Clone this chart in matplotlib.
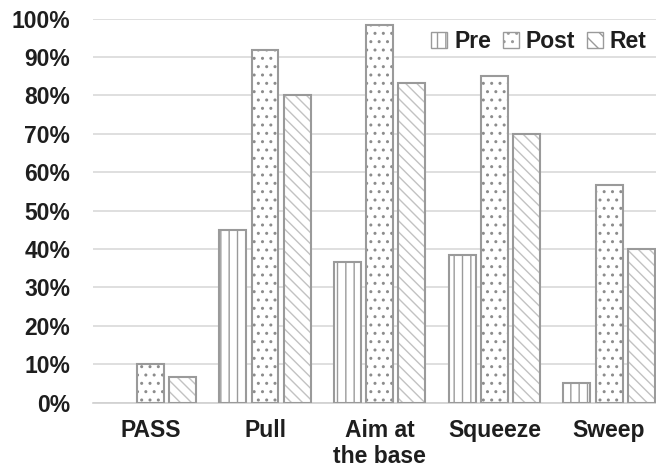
import matplotlib.pyplot as plt
import numpy as np
from matplotlib.patches import Patch

categories = ["PASS", "Pull", "Aim at\nthe base", "Squeeze", "Sweep"]
pre = [0, 45.0, 36.7, 38.3, 5.0]
post = [10.0, 91.7, 98.3, 85.0, 56.7]
ret = [6.7, 80.0, 83.3, 70.0, 40.0]
series = ["Pre", "Post", "Ret"]

plt.rcParams['font.family'] = ['Liberation Sans', 'DejaVu Sans']
plt.rcParams['hatch.linewidth'] = 1.0

edge = "#9a9a9a"
txt = "#1e1e1e"

fig = plt.figure(figsize=(6.56, 4.70), dpi=100)
ax = fig.add_axes([0.1418, 0.1436, 0.874, 0.817])

x = np.arange(len(categories))
w = 0.235
step = 0.28
hatches = ["||", "..", "\\\\\\"]
hcols = [edge, "#8c8c8c", "#c2c2c2"]
for i, (vals, h) in enumerate(zip([pre, post, ret], hatches)):
    pos = x + (i - 1) * step
    lws = [1.5 if v > 0 else 0 for v in vals]
    # hatch layer
    ax.bar(pos, vals, w, color="white", edgecolor=hcols[i], hatch=h, linewidth=0, zorder=3)
    # outline
    ax.bar(pos, vals, w, fill=False, edgecolor=edge, linewidth=lws, zorder=4)

ax.set_xlim(-0.5, 4.5)
ax.set_ylim(0, 100)
ax.set_yticks(np.arange(0, 101, 10))
ax.set_yticklabels([f"{v}%" for v in range(0, 101, 10)], fontsize=16.5,
                   fontweight="bold", color=txt)
ax.set_xticks(x)
ax.set_xticklabels(categories, fontsize=16.5, fontweight="bold", color=txt,
                   linespacing=1.15)
ax.tick_params(axis="both", length=0)
ax.tick_params(axis="y", pad=16.5)
ax.tick_params(axis="x", pad=12)
ax.grid(axis="y", color="#d9d9d9", linewidth=1.2, zorder=0)
ax.set_axisbelow(True)
for s in ["top", "right", "left"]:
    ax.spines[s].set_visible(False)
ax.spines["bottom"].set_color("#d0d0d0")
ax.spines["bottom"].set_linewidth(1.2)

handles = [Patch(facecolor="white", edgecolor=edge, hatch=h, linewidth=1.0)
           for h in ["||", "..", "\\\\"]]
leg = ax.legend(handles, series, loc="upper right", bbox_to_anchor=(0.985, 1.0),
                ncol=3, frameon=False, fontsize=16.5, handlelength=0.7,
                handleheight=0.7, handletextpad=0.3, columnspacing=0.5,
                borderaxespad=0.1)
for t in leg.get_texts():
    t.set_fontweight("bold")
    t.set_color(txt)

fig.savefig("out.png", dpi=100)
